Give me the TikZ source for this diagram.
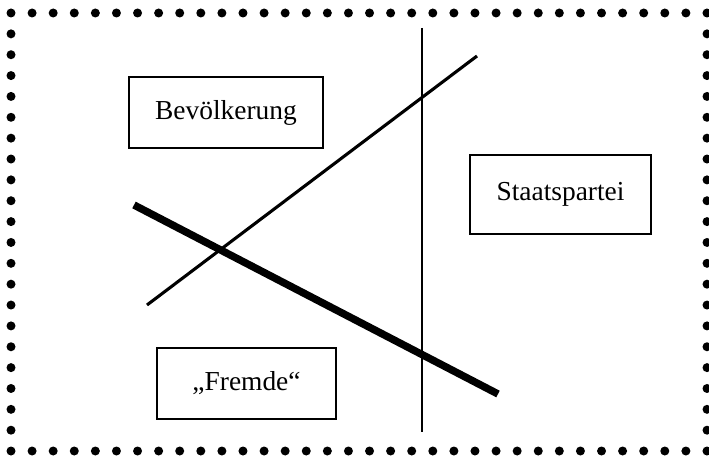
\documentclass[tikz,border=0pt]{standalone}
\usepackage{fontspec}
\setmainfont{Liberation Serif}
\begin{document}
\begin{tikzpicture}[x=0.025cm, y=-0.025cm,
    akteur/.style={draw, line width=1.1pt, inner sep=0pt, font=\fontsize{19.5}{22}\selectfont},
    punkt/.style={fill=black}]
    \useasboundingbox (0,0) rectangle (709,458);

    % Punktrahmen
    \foreach \i in {0,...,33} {
        \fill[punkt] ({11+\i*21.09},13) circle (3.2pt);
        \fill[punkt] ({11+\i*21.09},451) circle (3.2pt);
    }
    \foreach \i in {1,...,20} {
        \fill[punkt] (11,{13+\i*20.86}) circle (3.2pt);
        \fill[punkt] (707,{13+\i*20.86}) circle (3.2pt);
    }

    % Akteure
    \node[akteur, minimum width=4.85cm, minimum height=1.775cm] (bev) at (226,112.5) {Bevölkerung};
    \node[akteur, minimum width=4.525cm, minimum height=1.975cm] (staat) at (560.5,194.5) {Staatspartei};
    \node[akteur, minimum width=4.475cm, minimum height=1.775cm] (fremd) at (246.5,383.5) {„Fremde“};

    % Trennlinien
    \draw[line width=1.6pt] (422,28) -- (422,432);
    \draw[line width=2.2pt] (147,305) -- (477,56);
    \draw[line width=5.3pt] (134,205) -- (498,394);
\end{tikzpicture}
\end{document}
